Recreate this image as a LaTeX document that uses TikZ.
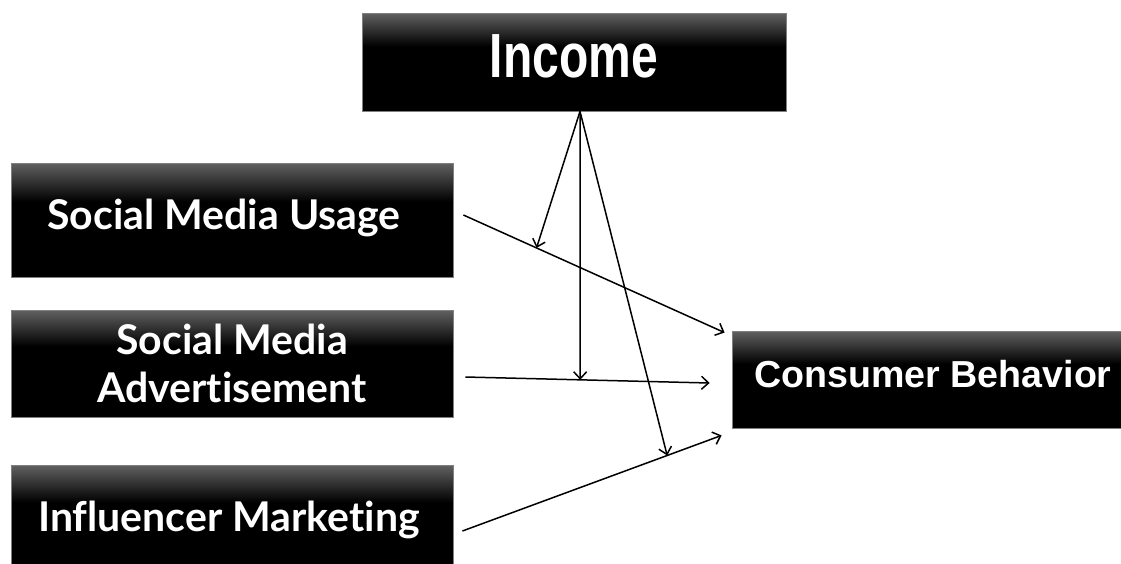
\documentclass[tikz,border=0pt]{standalone}
\usepackage{fontspec}
\setmainfont{Lato}[Ligatures=NoCommon]
\newfontfamily\arialfont{Liberation Sans}
\usetikzlibrary{calc,arrows.meta}
\pgfdeclareverticalshading{boxshade}{100bp}{color(0bp)=(black); color(25bp)=(black); color(58bp)=(black); color(75bp)=(black!62); color(100bp)=(black!62)}

\begin{document}
\begin{tikzpicture}[x=1pt, y=-1pt, >={Straight Barb[length=7pt, width=13pt]},
    box/.style={rectangle, draw=black!50, line width=0.8pt, shading=boxshade, text=white, align=center, inner sep=0pt},
    link/.style={->, line width=1.5pt}]
            \clip (0,0) rectangle (1121,563);
            \node[box, minimum width=424, minimum height=98, font=\arialfont\bfseries\fontsize{48}{50}\selectfont] (inc) at (574,62) {\raisebox{12pt}{\scalebox{1}[1.3]{Income}}};
            \node[box, minimum width=442, minimum height=114, font=\bfseries\fontsize{41}{44}\selectfont] (smu) at (232,220) {\raisebox{12pt}{Social Media Usage}\hspace*{16pt}};
            \node[box, minimum width=442, minimum height=107, font=\bfseries\fontsize{41}{48}\selectfont] (sma) at (232,363.5) {Social Media\\Advertisement};
            \node[box, minimum width=442, minimum height=110, font=\bfseries\fontsize{41}{44}\selectfont] (im) at (232,520) {\raisebox{8pt}{Influencer Marketing}\hspace*{6pt}};
            \node[box, minimum width=402, minimum height=97, font=\arialfont\bfseries\fontsize{37.6}{40}\selectfont] (cb) at (933,379.5) {\raisebox{11pt}{Consumer Behavior}};
            \draw[link] ($(smu.east)+(10,-5)$) -- coordinate[pos=0.28] (m1) ($(cb.north west)+(-7,2)$);
            \draw[link] ($(sma.east)+(12,13.5)$) -- coordinate[pos=0.47] (m2) ($(cb.west)+(-22,3.5)$);
            \draw[link] ($(im.east)+(9,11)$) -- coordinate[pos=0.79] (m3) ($(cb.south west)+(-10,7)$);
            \coordinate (inc out) at ($(inc.south)+(6,0)$);
            \draw[link] (inc out) -- (m1);
            \draw[link] (inc out) -- (m2);
            \draw[link] (inc out) -- (m3);
        \end{tikzpicture}
\end{document}
